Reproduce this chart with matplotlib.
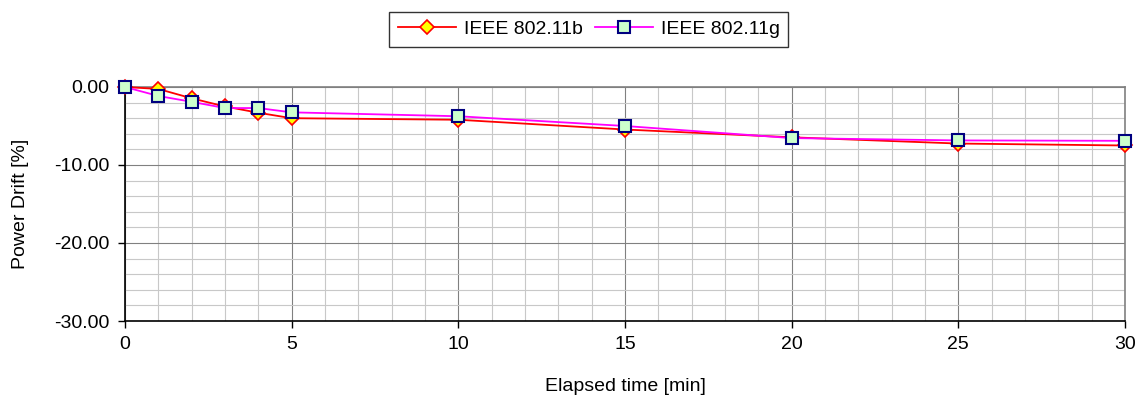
import matplotlib
matplotlib.use("Agg")
from matplotlib import pyplot as plt
from matplotlib.ticker import MultipleLocator, FormatStrFormatter

plt.rcParams["font.family"] = ["Liberation Sans", "DejaVu Sans"]

elapsed_min = [0, 1, 2, 3, 4, 5, 10, 15, 20, 25, 30]
drift_11b = [0.0, -0.25, -1.45, -2.5, -3.3, -4.0, -4.2, -5.45, -6.45, -7.25, -7.5]
drift_11g = [0.0, -1.15, -1.9, -2.7, -2.7, -3.25, -3.75, -5.0, -6.55, -6.85, -6.9]


def main():
    fig = plt.figure(figsize=(11.39, 4.05), dpi=100)
    ax = fig.add_axes([0.1097, 0.2074, 0.8780, 0.5778])

    ax.plot(elapsed_min, drift_11b, color="#ff0000", lw=1.3, marker="D", ms=7.5,
            mfc="#ffff00", mec="#ff0000", mew=1.2, label="IEEE 802.11b",
            zorder=3, clip_on=False)
    ax.plot(elapsed_min, drift_11g, color="#ff00ff", lw=1.3, marker="s", ms=8.5,
            mfc="#ccffcc", mec="#000080", mew=1.5, label="IEEE 802.11g",
            zorder=4, clip_on=False)

    ax.set_xlim(0, 30)
    ax.set_ylim(-30, 0)
    ax.xaxis.set_major_locator(MultipleLocator(5))
    ax.xaxis.set_minor_locator(MultipleLocator(1))
    ax.yaxis.set_major_locator(MultipleLocator(10))
    ax.yaxis.set_minor_locator(MultipleLocator(2))
    ax.yaxis.set_major_formatter(FormatStrFormatter("%.2f"))

    ax.grid(which="major", color="#808080", lw=0.8)
    ax.grid(which="minor", color="#c8c8c8", lw=0.8)
    ax.set_axisbelow(True)
    ax.tick_params(which="major", direction="out", length=5, width=1,
                   labelsize=14, color="#000000", pad=6)
    ax.tick_params(which="minor", length=0)

    for side in ("left", "bottom"):
        ax.spines[side].set_color("#000000")
        ax.spines[side].set_linewidth(1.2)
    for side in ("top", "right"):
        ax.spines[side].set_color("#808080")
        ax.spines[side].set_linewidth(1.2)

    ax.set_xlabel("Elapsed time [min]", fontsize=14, labelpad=18)
    ax.set_ylabel("Power Drift [%]", fontsize=14, labelpad=18)

    leg = fig.legend(loc="upper center", bbox_to_anchor=(0.517, 0.995), ncol=2,
                     fontsize=14, frameon=True, fancybox=False, handlelength=3.0,
                     columnspacing=0.6, handletextpad=0.4, borderpad=0.45)
    leg.get_frame().set_edgecolor("#000000")
    leg.get_frame().set_linewidth(1.0)

    fig.savefig("out.png", dpi=100)


if __name__ == "__main__":
    main()
